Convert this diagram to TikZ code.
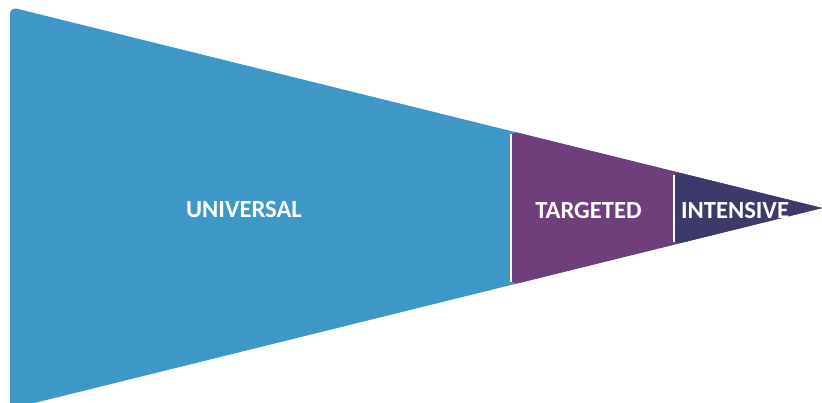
\documentclass[tikz,border=0pt]{standalone}
\usepackage{fontspec}
\setsansfont{Carlito}
\definecolor{universalblue}{RGB}{61,152,199}
\definecolor{targetedpurple}{RGB}{111,63,124}
\definecolor{intensiveviolet}{RGB}{62,57,107}
\tikzset{
  segedge/.style={draw=white, line width=0.6pt},
  seglabel/.style={text=white, font=\sffamily\bfseries\fontsize{7}{8}\selectfont, inner sep=0pt}
}
\begin{document}
\begin{tikzpicture}[x=0.01cm, y=-0.01cm]
        % Frame
        \useasboundingbox (0,0) rectangle (822,402);
        \clip (0,0) rectangle (822,402);
        \coordinate (tip) at (822,208);

        % Universal
        \fill[universalblue] (tip) [rounded corners=2pt] -- (10,7) -- (10,409) [sharp corners] -- cycle;

        % Targeted
        \fill[targetedpurple] (tip) [rounded corners=2pt] -- (511,131) -- (511,285) [sharp corners] -- cycle;
        \draw[segedge] (511,134) -- (511,282);

        % Intensive
        \fill[intensiveviolet] (tip) [rounded corners=2pt] -- (674,171.5) -- (674,244.5) [sharp corners] -- cycle;
        \draw[segedge] (674,174.5) -- (674,241.5);

        % Labels
        \node[seglabel] (universal) at (244,210) {UNIVERSAL};
        \node[seglabel] (targeted) at (588.5,210) {TARGETED};
        \node[seglabel] (intensive) at (735,210) {INTENSIVE};
      \end{tikzpicture}
\end{document}
